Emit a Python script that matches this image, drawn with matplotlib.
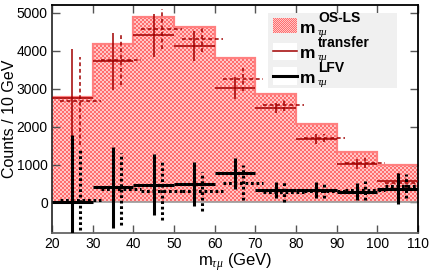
import numpy as np
import matplotlib
matplotlib.use("Agg")
from matplotlib import pyplot as plt
from matplotlib.colors import ListedColormap, to_rgb
from matplotlib.patches import Rectangle
from matplotlib.lines import Line2D

plt.rcParams['font.family'] = ['Liberation Sans', 'DejaVu Sans']
plt.rcParams['mathtext.fontset'] = 'custom'
plt.rcParams['mathtext.rm'] = 'Liberation Sans'
plt.rcParams['mathtext.bf'] = 'Liberation Sans:bold'
plt.rcParams['mathtext.it'] = 'Liberation Serif:italic'

# bins of 10 GeV
edges = [20, 30, 40, 50, 60, 70, 80, 90, 100, 110]
centers = [25, 35, 45, 55, 65, 75, 85, 95, 105]

# OS-LS histogram
os_ls = [2770, 4170, 4900, 4640, 3815, 2870, 2075, 1340, 980]

# transfer (red), solid and dotted (shifted +2 GeV)
transfer = [2765, 3720, 4410, 4125, 3010, 2500, 1675, 1020, 575]
transfer_err = [1280, 750, 560, 400, 290, 130, 125, 130, 200]
transfer2 = [2675, 3760, 4570, 4310, 3250, 2560, 1700, 1040, 505]
transfer2_err = [1150, 670, 530, 340, 310, 155, 105, 130, 150]

# LFV (black), solid and dotted (shifted +2 GeV)
lfv = [0, 400, 470, 500, 765, 323, 340, 287, 366]
lfv_err = [1780, 1070, 810, 580, 410, 210, 210, 215, 410]
lfv2 = [70, 360, 300, 290, 525, 287, 305, 323, 438]
lfv2_err = [1380, 950, 755, 520, 465, 265, 190, 250, 320]

W, H = 436, 272
fig = plt.figure(figsize=(W / 100, H / 100), dpi=100)
ax = fig.add_axes([52/W, 1 - 233/H, 366/W, 228/H])
xlim = (20, 110)
ylim = (-805, 5210)

# checkered fill (ROOT fill style), clipped to the histogram
c_dark, c_light = '#ff6e6e', '#ffc6c6'
ny, nx = 114, 183
checker = (np.add.outer(np.arange(ny), np.arange(nx)) % 2)
hist = ax.stairs(os_ls, edges, fill=True, facecolor='none', linewidth=0, zorder=1)
im = ax.imshow(checker, extent=(*xlim, *ylim), aspect='auto', interpolation='nearest',
               cmap=ListedColormap([c_dark, c_light]), zorder=1)
im.set_clip_path(hist)
ax.stairs(os_ls, edges, fill=False, color='#ff8080', linewidth=1.6, baseline=None, zorder=2)
ax.axhline(0, color='#999999', linewidth=1.2, zorder=2)

def draw_err(x, y, e, color, lw, ls):
    eb = ax.errorbar(x, y, xerr=5, yerr=e, fmt='none', ecolor=color,
                     elinewidth=lw, capsize=0, zorder=3)
    for c in eb.lines[2]:
        c.set_linestyle(ls)
    return eb

cx = np.array(centers)
draw_err(cx, transfer, transfer_err, '#a00000', 1.1, '-')
draw_err(cx + 2, transfer2, transfer2_err, '#a00000', 1.1, (0, (2.5, 1.8)))
draw_err(cx, lfv, lfv_err, 'black', 2.2, '-')
draw_err(cx + 2, lfv2, lfv2_err, 'black', 2.2, (0, (0.9, 0.9)))

ax.set_xlim(*xlim)
ax.set_ylim(*ylim)
ax.set_xticks(range(20, 111, 10))
ax.set_yticks(range(0, 5001, 1000))
ax.tick_params(direction='in', top=True, right=True, length=6, width=1,
               labelsize=10, pad=3, color='#555555')
for s in ax.spines.values():
    s.set_linewidth(1.3)
ax.spines['left'].set_color('#333333')
ax.spines['bottom'].set_color('#666666')

ax.set_ylabel('Counts / 10 GeV', fontsize=11.5)
ax.yaxis.set_label_coords((17 - 52) / 366, 0.5)
ax.set_xlabel(r'$\mathrm{m}_{\tau\mu}$ (GeV)', fontsize=12, labelpad=0)

# legend, drawn by hand in figure pixels (top-left origin)
def fx(px):
    return px / W

def fy(py):
    return 1 - py / H

fig.patches.append(Rectangle((fx(268), fy(88)), fx(397) - fx(268), (88 - 13) / H,
                             transform=fig.transFigure, facecolor='#f0f0f0',
                             edgecolor='none', zorder=5))
# checker swatch
sw = (np.add.outer(np.arange(15), np.arange(24)) % 2)
rgb = np.where(sw[..., None] == 0, np.array(to_rgb(c_dark)), np.array(to_rgb(c_light)))
fig.figimage(rgb, xo=273, yo=H - 33, zorder=6, origin='upper')
for y0, y1 in [(43, 60), (67, 85)]:
    fig.patches.append(Rectangle((fx(273), fy(y1)), fx(297) - fx(273), (y1 - y0) / H,
                                 transform=fig.transFigure, facecolor='white',
                                 edgecolor='none', zorder=6))
fig.lines.append(Line2D([fx(273), fx(297)], [fy(51), fy(51)], transform=fig.transFigure,
                        color='#a00000', linewidth=1.1, zorder=7))
fig.lines.append(Line2D([fx(273), fx(297)], [fy(76), fy(76)], transform=fig.transFigure,
                        color='black', linewidth=2.2, zorder=7))

sups = ['OS-LS', 'transfer', 'LFV']
for i, sup in enumerate(sups):
    base = 33 + 25 * i
    fig.text(fx(300), fy(base), 'm', fontsize=12.5, fontweight='bold',
             va='baseline', ha='left', zorder=8)
    fig.text(fx(318), fy(base - 11), sup, fontsize=10, fontweight='bold',
             va='baseline', ha='left', zorder=8)
    fig.text(fx(317), fy(base + 2), r'$\tau\mu$', fontsize=8,
             va='baseline', ha='left', zorder=8)

fig.savefig('out.png', dpi=100)
